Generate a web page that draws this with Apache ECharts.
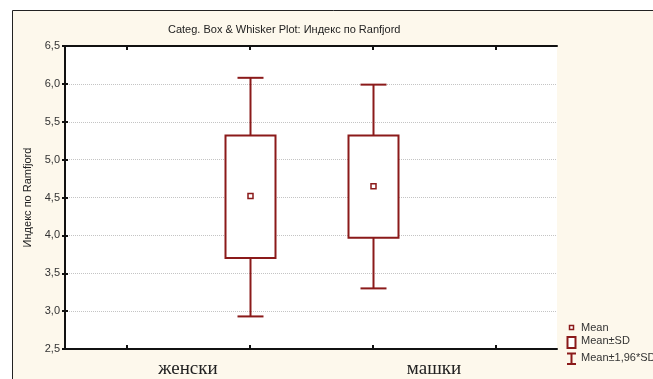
<!DOCTYPE html>
<html>
<head>
<meta charset="utf-8">
<script src="https://cdn.jsdelivr.net/npm/echarts@6/dist/echarts.min.js"></script>
<style>
html,body{margin:0;padding:0;background:#fff;}
#c{width:653px;height:379px;}
</style>
</head>
<body>
<div id="c"></div>
<script>
const categories = ['женски', 'машки'];
const means  = [4.52, 4.65];
const sdLow  = [3.70, 3.97];
const sdHigh = [5.32, 5.32];
const ciLow  = [2.93, 3.30];
const ciHigh = [6.08, 5.99];
const legendLabels = ['Mean', 'Mean±SD', 'Mean±1,96*SD'];
const titleText = 'Categ. Box & Whisker Plot: Индекс по Ranfjord';
const yName = 'Индекс по Ramfjord';

const RED = '#8b1a1a';
const SANS = 'Liberation Sans, Arial, sans-serif';

const chart = echarts.init(document.getElementById('c'), null, {renderer: 'canvas'});

const boxData = categories.map((c, i) => [i + 1.5, ciLow[i], sdLow[i], means[i], sdHigh[i], ciHigh[i]]);
const labelPos = categories.map((c, i) => 1 + 2 * i);
const tickPos = [0.5, 1.5, 2.5, 3.5];

function renderItem(params, api) {
  const x = api.value(0);
  const pLo = api.coord([x, api.value(1)]);
  const pQ1 = api.coord([x, api.value(2)]);
  const pM  = api.coord([x, api.value(3)]);
  const pQ3 = api.coord([x, api.value(4)]);
  const pHi = api.coord([x, api.value(5)]);
  const cx = Math.round(pM[0]) + 0.5;
  const bw = 50, cw = 26, ms = 5;
  const ls = {stroke: RED, lineWidth: 2, fill: null};
  return {
    type: 'group',
    children: [
      {type: 'line', shape: {x1: cx, y1: pHi[1], x2: cx, y2: pQ3[1]}, style: ls},
      {type: 'line', shape: {x1: cx, y1: pQ1[1], x2: cx, y2: pLo[1]}, style: ls},
      {type: 'line', shape: {x1: cx - cw/2, y1: pHi[1], x2: cx + cw/2, y2: pHi[1]}, style: ls},
      {type: 'line', shape: {x1: cx - cw/2, y1: pLo[1], x2: cx + cw/2, y2: pLo[1]}, style: ls},
      {type: 'rect', shape: {x: cx - bw/2, y: pQ3[1], width: bw, height: pQ1[1] - pQ3[1]}, style: {stroke: RED, lineWidth: 2, fill: '#fff'}},
      {type: 'rect', shape: {x: cx - ms/2, y: pM[1] - ms/2, width: ms, height: ms}, style: {stroke: RED, lineWidth: 1.5, fill: '#fff'}}
    ]
  };
}

const lx = 581;
const legendGraphics = [
  {type: 'rect', shape: {x: 569.5, y: 325.5, width: 4, height: 4}, style: {stroke: RED, lineWidth: 1.5, fill: '#fff'}},
  {type: 'rect', shape: {x: 567.5, y: 337, width: 8, height: 11}, style: {stroke: RED, lineWidth: 2, fill: '#fff'}},
  {type: 'line', shape: {x1: 571.5, y1: 353.5, x2: 571.5, y2: 364}, style: {stroke: RED, lineWidth: 2}},
  {type: 'line', shape: {x1: 567, y1: 353.5, x2: 576, y2: 353.5}, style: {stroke: RED, lineWidth: 2}},
  {type: 'line', shape: {x1: 567, y1: 364, x2: 576, y2: 364}, style: {stroke: RED, lineWidth: 2}},
  {type: 'text', x: lx, y: 327.5, style: {text: legendLabels[0], font: '11px ' + SANS, fill: '#333', verticalAlign: 'middle'}},
  {type: 'text', x: lx, y: 341, style: {text: legendLabels[1], font: '11px ' + SANS, fill: '#333', verticalAlign: 'middle'}},
  {type: 'text', x: lx, y: 357.5, style: {text: legendLabels[2], font: '11px ' + SANS, fill: '#333', verticalAlign: 'middle'}}
];

const option = {
  backgroundColor: '#fff',
  animation: false,
  graphic: [
    {type: 'rect', z: -10, shape: {x: 12.5, y: 10.5, width: 700, height: 400}, style: {fill: '#fdf8ec', stroke: '#222', lineWidth: 1}}
  ].concat(legendGraphics),
  title: {
    text: titleText, left: 168, top: 24, padding: 0,
    textStyle: {fontSize: 11, fontWeight: 'normal', fontFamily: SANS, color: '#222'}
  },
  grid: {left: 65, right: 96, top: 46, bottom: 29, show: true, backgroundColor: '#fff', borderWidth: 0},
  xAxis: [
    {
      type: 'value', min: 0, max: 4, position: 'bottom',
      axisLine: {show: true, onZero: false, lineStyle: {color: '#111', width: 2}},
      axisTick: {show: true, inside: true, length: 4, customValues: tickPos, lineStyle: {color: '#111', width: 2}},
      axisLabel: {show: true, customValues: labelPos, margin: 11,
        formatter: v => categories[Math.round((v - 1) / 2)] || '',
        fontFamily: 'Liberation Serif, Times New Roman, serif', fontSize: 19, color: '#222'},
      splitLine: {show: false}
    },
    {
      type: 'value', min: 0, max: 4, position: 'top',
      axisLine: {show: true, onZero: false, lineStyle: {color: '#111', width: 2}},
      axisTick: {show: true, inside: true, length: 4, customValues: tickPos, lineStyle: {color: '#111', width: 2}},
      axisLabel: {show: false},
      splitLine: {show: false}
    }
  ],
  yAxis: [
    {
      type: 'value', min: 2.5, max: 6.5, interval: 0.5, position: 'left',
      name: yName, nameLocation: 'middle', nameRotate: 90, nameGap: 30,
      nameTextStyle: {fontSize: 11, fontFamily: SANS, color: '#222'},
      axisLine: {show: true, lineStyle: {color: '#111', width: 2}},
      axisTick: {show: true, inside: true, length: 3, lineStyle: {color: '#111', width: 2}},
      axisLabel: {margin: 5, fontSize: 11, fontFamily: SANS, color: '#333',
        formatter: v => v.toFixed(1).replace('.', ',')},
      splitLine: {show: true, lineStyle: {color: '#c4c4c4', type: 'dotted', width: 1}}
    },
    {
      type: 'value', min: 2.5, max: 6.5, interval: 0.5, position: 'right',
      axisLine: {show: true, lineStyle: {color: '#111', width: 2}},
      axisTick: {show: true, inside: true, length: 3, lineStyle: {color: '#111', width: 2}},
      axisLabel: {show: false},
      splitLine: {show: false}
    }
  ],
  series: [{
    type: 'custom',
    renderItem: renderItem,
    xAxisIndex: 0, yAxisIndex: 0,
    encode: {x: 0, y: [1, 2, 3, 4, 5]},
    data: boxData,
    z: 5
  }]
};
chart.setOption(option);
</script>
</body>
</html>
